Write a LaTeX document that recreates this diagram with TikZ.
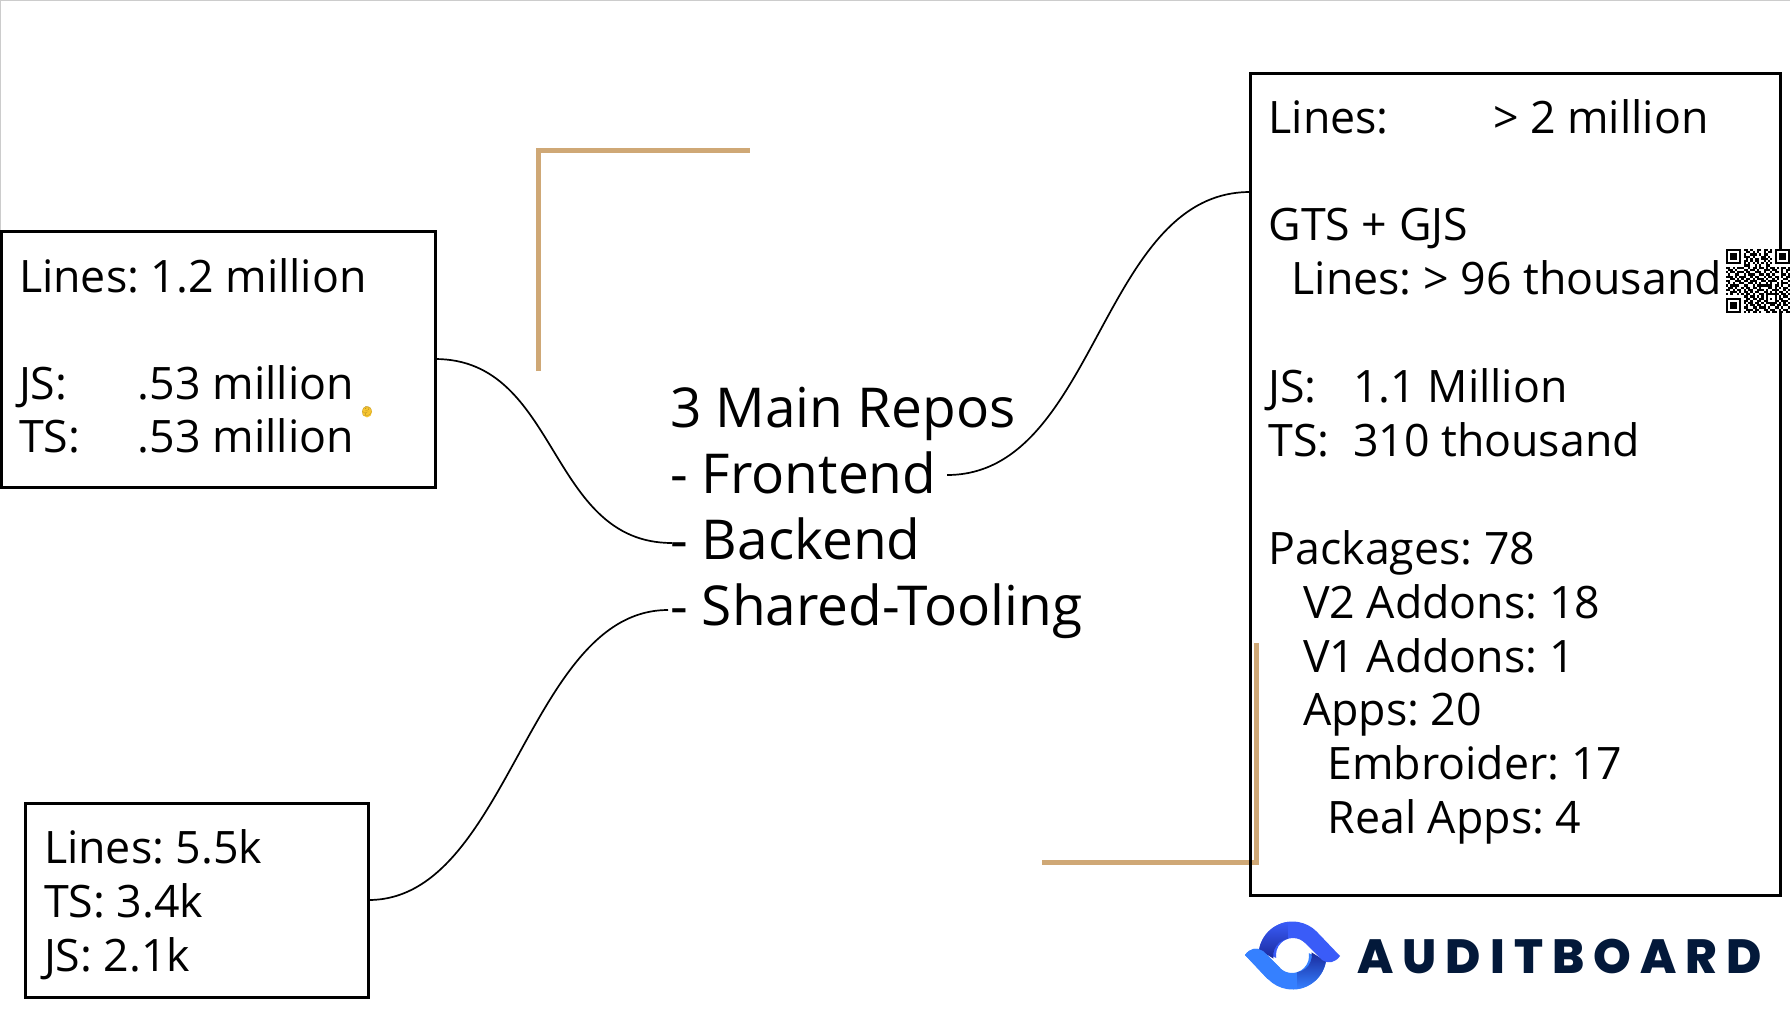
\documentclass[tikz,border=0pt]{standalone}
\usepackage{fontspec}
\setmainfont{Open Sans}
\newfontfamily\logofont[LetterSpace=19]{Poppins ExtraBold}
\newfontfamily\emojifont{Noto Emoji}
\usetikzlibrary{calc}
\frenchspacing
\definecolor{gold}{HTML}{CFA876}
\definecolor{royal}{HTML}{3A5CF8}
\definecolor{sky}{HTML}{3580FF}
\definecolor{deep}{HTML}{1A2A9C}
\definecolor{navy}{HTML}{03193A}
\definecolor{emoji}{HTML}{F8C630}
\definecolor{emojiline}{HTML}{B08A20}
\tikzset{
  statbox/.style={draw=black,line width=3pt,fill=none,inner sep=0pt,outer sep=0pt,rectangle},
  stattext/.style={anchor=north west,inner sep=0pt,outer sep=0pt,align=left,font=\fontsize{44.7}{53.6}\selectfont},
  repotext/.style={anchor=base west,inner sep=0pt,outer sep=0pt,font=\fontsize{55}{66}\selectfont},
  link/.style={draw=black,line width=1.7pt},
  rule/.style={draw=gold,line width=5pt},
  frameline/.style={draw=black!20,line width=1.5pt}
}
\newcommand{\first}{\rule{0pt}{40pt}}
\newcommand{\tabto}[2]{\makebox[#1][l]{#2}}
% QR rows
\newcount\qrx \newcount\qry
\def\qrbits#1{\ifx#1;\global\qrx=0 \global\advance\qry by 1 \else\if#11\fill[black] ({1726+2.21*\the\qrx},{249+2.21*\the\qry}) rectangle ++(2.21,2.21);\fi\global\advance\qrx by 1 \expandafter\qrbits\fi}
\newcommand{\logobody}{(1292.5,955.5) ++(190:34) arc[start angle=190,end angle=315,radius=34] -- (1340,956) .. controls (1335,963) and (1328,964) .. (1322,960) -- (1305,943) arc[start angle=315,end angle=170,radius=17] -- cycle}
\newcommand{\logowedge}{(1292.5,955.5) ++(190:34) arc[start angle=190,end angle=262,radius=34] -- ++(0,17) arc[start angle=262,end angle=170,radius=17] -- cycle}
\begin{document}
\begin{tikzpicture}[x=1pt,y=-1pt]
\useasboundingbox (0,0) rectangle (1790,1010);
\fill[white] (0,0) rectangle (1790,1010);
\draw[frameline] (0,231) -- (0,0.7) -- (1790,0.7);
% rules
\draw[rule,line cap=butt] (538.5,371) -- (538.5,150.5) -- (750,150.5);
\draw[rule,line cap=butt] (1256,643) -- (1256,862.5) -- (1042,862.5);
% boxes
\node[statbox,minimum width=434pt,minimum height=256pt] (boxA) at (218,359) {};
\node[statbox,minimum width=530pt,minimum height=822pt] (boxB) at (1515,484) {};
\node[statbox,minimum width=343pt,minimum height=194pt] (boxC) at (197,900) {};
% box texts
\node[stattext] (textA) at (19,252) {\first Lines: 1.2 million\\ \mbox{}\\ \tabto{119pt}{JS:}.53 million\\ \tabto{119pt}{TS:}.53 million};
\node[stattext,font=\fontsize{44.7}{53.9}\selectfont] (textB) at (1268.5,93) {\first \tabto{224.5pt}{Lines:}> 2 million\\ \mbox{}\\ GTS + GJS\\ \hspace{23pt}Lines: > 96 thousand\\ \mbox{}\\ \tabto{84.5pt}{JS:}1.1 Million\\ \tabto{84.5pt}{TS:}310 thousand\\ \mbox{}\\ Packages: 78\\ \hspace{34.5pt}V2 Addons: 18\\ \hspace{34.5pt}V1 Addons: 1\\ \hspace{34.5pt}Apps: 20\\ \hspace{59pt}Embroider: 17\\ \hspace{59pt}Real Apps: 4};
\node[stattext,font=\fontsize{44.7}{54}\selectfont] (textC) at (44,823.5) {\first Lines: 5.5k\\ TS: 3.4k\\ JS: 2.1k};
% repos
\node[repotext] (repoTitle) at (670,427) {3 Main Repos};
\node[repotext] (repoFrontend) at (670,493) {- Frontend};
\node[repotext] (repoBackend) at (670,559) {- Backend};
\node[repotext] (repoShared) at (670,625.5) {- Shared-Tooling};
% connectors
\coordinate (feEnd) at (947,475);
\coordinate (beEnd) at (672,543);
\coordinate (stEnd) at (668,610);
\coordinate (bIn) at (1250,192);
\draw[link] (boxA.east) .. controls +(125,0) and ($(beEnd)+(-125,0)$) .. (beEnd);
\draw[link] (feEnd) .. controls +(150,0) and ($(bIn)+(-150,0)$) .. (bIn);
\draw[link] (boxC.east) .. controls +(140,0) and ($(stEnd)+(-140,0)$) .. (stEnd);
% QR
\fill[white] (1726,249) rectangle (1790,313);
\begin{scope}
\clip (1726,249) rectangle (1790,313);
\global\qrx=0 \global\qry=0
\qrbits 11111110110100110110101111111;
\qrbits 10000010011010100101101000001;
\qrbits 10111010100111010110001011101;
\qrbits 10111010111010001101001011101;
\qrbits 10111010010101101110101011101;
\qrbits 10000010110101100101001000001;
\qrbits 11111110101010101010101111111;
\qrbits 00000000111001010011000000000;
\qrbits 11010111001011011010110101101;
\qrbits 01101000110110100111011001011;
\qrbits 10110111011001110100101101010;
\qrbits 01001100101110011011010001101;
\qrbits 11101011100101100101101101011;
\qrbits 00110101011010111010010100110;
\qrbits 11001110110111001101111001001;
\qrbits 01010011001101010010100101110;
\qrbits 10111100110010111111101101001;
\qrbits 01101001011011010001101010110;
\qrbits 11010110101100111010011100101;
\qrbits 00111010110101100110101011010;
\qrbits 10100101011010011011111101101;
\qrbits 00000000110110101010001010110;
\qrbits 11111110011011011010101011001;
\qrbits 10000010110100110110001101110;
\qrbits 10111010101101101011111010101;
\qrbits 10111010010110110100110110110;
\qrbits 10111010110011011101001101001;
\qrbits 10000010011101100110110010110;
\qrbits 11111110101011010011011011011;
\end{scope}
% emoji
\fill[emoji] (367,411.8) ellipse (5pt and 5.6pt);
\node[inner sep=0pt,text=emojiline,font=\emojifont\fontsize{9}{9}\selectfont] (thinking) at (367,411.8) {🤔};
% logo
\begin{scope}[rotate around={180:(1292.5,955.5)}]
\fill[sky] \logobody;
\shade[bottom color=sky,top color=deep] \logowedge;
\end{scope}
\fill[royal] \logobody;
\shade[top color=royal,bottom color=deep] \logowedge;
\begin{scope}[rotate around={180:(1292.5,955.5)}]
\fill[sky] (1305,943) -- (1322,960) .. controls (1328,964) and (1335,963) .. (1340,956) -- (1317.5,932) -- cycle;
\end{scope}
\node[anchor=base west,inner sep=0pt,text=navy,font=\logofont\fontsize{48}{48}\selectfont] (logoText) at (1357,973) {AUDITBOARD};
\end{tikzpicture}
\end{document}
